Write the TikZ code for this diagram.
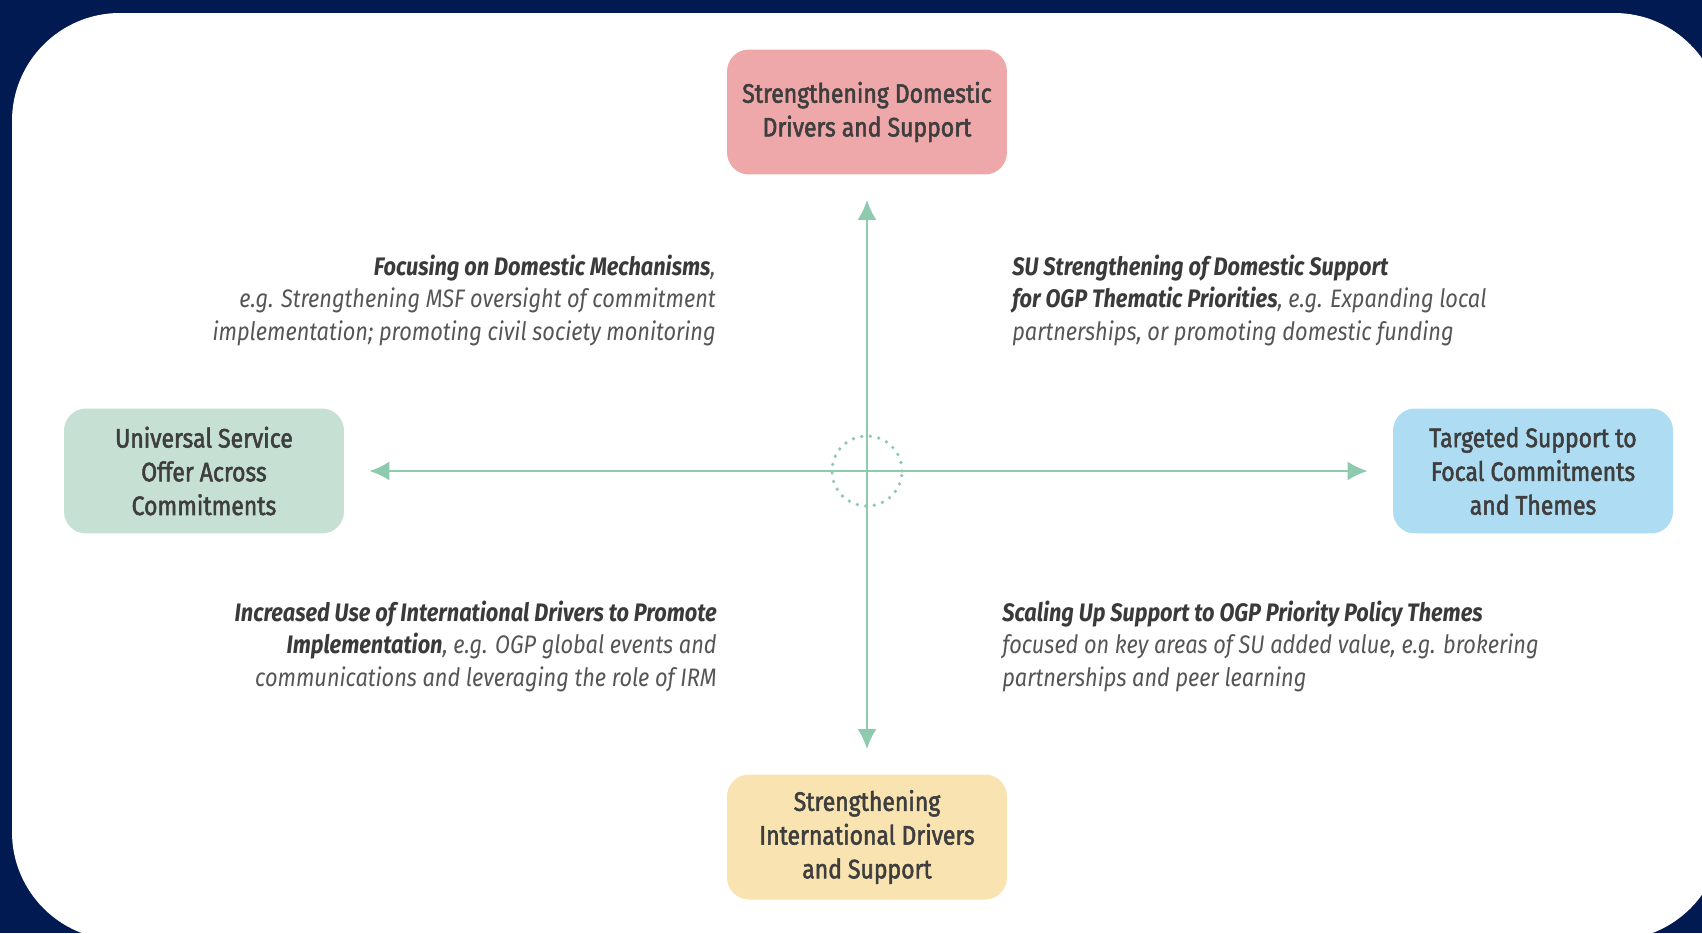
\documentclass[tikz,border=0pt]{standalone}
\usepackage{fontspec}
\usepackage{xcolor}
\usepackage{tikz}
\usetikzlibrary{arrows.meta,positioning}
\setmainfont{Fira Sans}
\newfontfamily\boxfont{Fira Sans}[FakeStretch=0.86,FakeBold=2]
\newfontfamily\notefont{Fira Sans}[FakeStretch=0.86,UprightFont=* Italic,BoldFont=* Bold Italic]
\definecolor{framenavy}{HTML}{021A52}
\definecolor{domesticpink}{HTML}{EEA8A9}
\definecolor{universalgreen}{HTML}{C6E1D3}
\definecolor{targetedblue}{HTML}{AEDCF2}
\definecolor{internationalyellow}{HTML}{F9E4B1}
\definecolor{axismint}{HTML}{8ECAAD}
\definecolor{boxtext}{HTML}{3E3E3E}
\definecolor{notetext}{HTML}{555555}
\definecolor{notebold}{HTML}{3A3A3A}
\newcommand{\lead}[1]{{\color{notebold}\bfseries #1}}
\tikzset{
  quadbox/.style={rounded corners=0.44cm,minimum width=5.6cm,minimum height=2.5cm,align=center,text=boxtext,font=\boxfont\fontsize{15.2}{19.2}\selectfont},
  axisarrow/.style={-{Latex[length=0.4cm,width=0.38cm]},line width=1.55pt,axismint,shorten >=0.5cm},
  hubring/.style={axismint,line width=2.1pt,dash pattern=on 0pt off 4.9pt,line cap=round},
  note/.style={text=notetext,font=\notefont\fontsize{14.4}{18.5}\selectfont,inner sep=0pt}
}

\begin{document}
\begin{tikzpicture}[x=0.02cm,y=-0.02cm]
  \useasboundingbox (0,0) rectangle (1702,933);
  \fill[framenavy] (0,0) rectangle (1702,933);
  \fill[white,rounded corners=2.16cm] (12,13) rectangle (1722,940);
  \coordinate (hub) at (867,471);
  \node[quadbox,fill=domesticpink] (domestic) at (867,112) {Strengthening Domestic\\Drivers and Support};
  \node[quadbox,fill=universalgreen] (universal) at (204,471) {Universal Service\\Offer Across\\Commitments};
  \node[quadbox,fill=targetedblue] (targeted) at (1533,471) {Targeted Support to\\Focal Commitments\\and Themes};
  \node[quadbox,fill=internationalyellow] (international) at (867,837) {Strengthening\\International Drivers\\and Support};
  \draw[axisarrow] (hub) -- (domestic);
  \draw[axisarrow] (hub) -- (universal);
  \draw[axisarrow] (hub) -- (targeted);
  \draw[axisarrow] (hub) -- (international);
  \draw[hubring] (hub) circle[radius=0.7cm];
  \node[note,anchor=east,align=right] (mechanisms) at (716,300) {\lead{Focusing on Domestic Mechanisms},\\e.g. Strengthening MSF oversight of commitment\\implementation; promoting civil society monitoring};
  \node[note,anchor=west,align=left] (priorities) at (1012,300) {\lead{SU Strengthening of Domestic Support}\\\lead{for OGP Thematic Priorities}, e.g. Expanding local\\partnerships, or promoting domestic funding};
  \node[note,anchor=east,align=right] (drivers) at (717,646) {\lead{Increased Use of International Drivers to Promote}\\\lead{Implementation}, e.g. OGP global events and\\communications and leveraging the role of IRM};
  \node[note,anchor=west,align=left] (scaling) at (1002,646) {\lead{Scaling Up Support to OGP Priority Policy Themes}\\focused on key areas of SU added value, e.g. brokering\\partnerships and peer learning};
\end{tikzpicture}
\end{document}
